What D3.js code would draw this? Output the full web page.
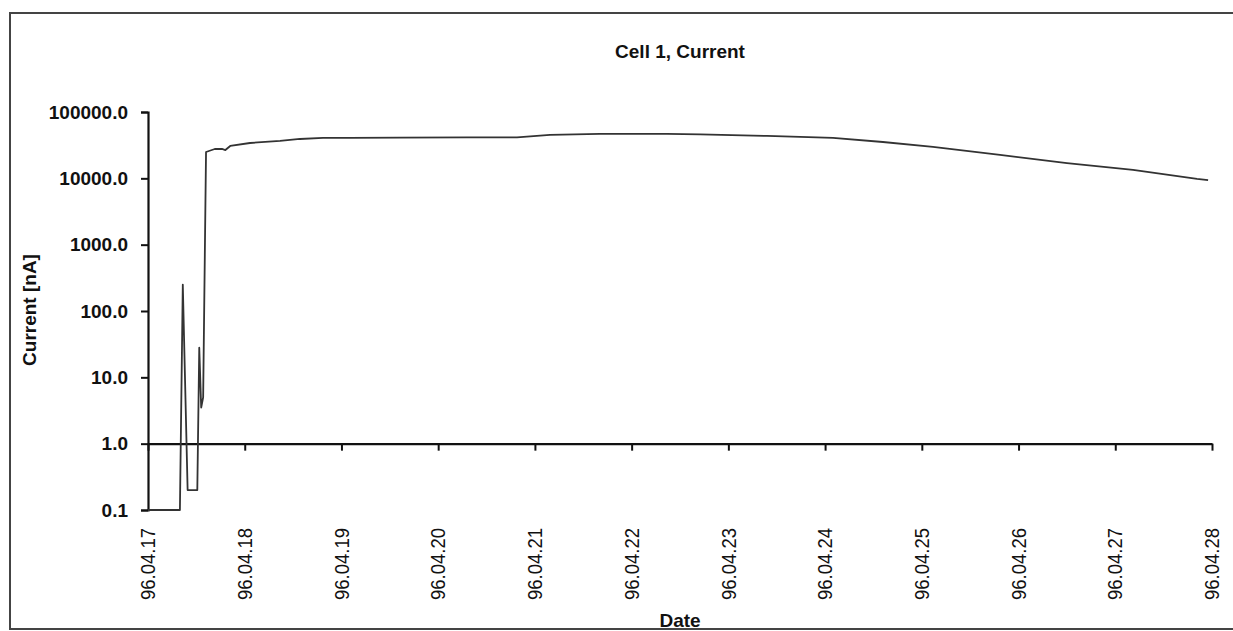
<!DOCTYPE html>
<html><head><meta charset="utf-8">
<script src="https://cdn.jsdelivr.net/npm/d3@7"></script>
<style>body{margin:0;background:#fff} svg{display:block}</style>
</head><body><svg id="c" width="1233" height="631"></svg>
<script>
const chartTitle = "Cell 1, Current";
const xTitle = "Date";
const yTitle = "Current [nA]";
const dateTicks = ["96.04.17","96.04.18","96.04.19","96.04.20","96.04.21","96.04.22",
                   "96.04.23","96.04.24","96.04.25","96.04.26","96.04.27","96.04.28"];
const yTickValues = [0.1, 1, 10, 100, 1000, 10000, 100000];
const times = ["1996-04-17 00:00","1996-04-17 07:55","1996-04-17 08:38","1996-04-17 09:50",
               "1996-04-17 12:14","1996-04-17 12:43","1996-04-17 13:12","1996-04-17 13:41",
               "1996-04-17 14:24","1996-04-17 16:34","1996-04-17 18:22","1996-04-17 19:12",
               "1996-04-17 20:24","1996-04-18 01:18","1996-04-18 08:46","1996-04-18 13:42",
               "1996-04-18 19:25","1996-04-19 02:07","1996-04-19 14:31","1996-04-20 07:09",
               "1996-04-20 19:34","1996-04-21 03:45","1996-04-21 16:09","1996-04-22 08:46",
               "1996-04-22 16:58","1996-04-23 09:35","1996-04-24 01:58","1996-04-24 14:21",
               "1996-04-25 02:46","1996-04-25 19:24","1996-04-26 12:01","1996-04-27 04:24",
               "1996-04-27 20:17","1996-04-27 23:02"];
const current = [0.1, 0.1, 250, 0.2,
                 0.2, 28, 3.5, 5,
                 24950, 27700, 27700, 26700,
                 30760, 34100, 36600, 39200,
                 40600, 40600, 41000, 41500,
                 41500, 45100, 46700, 46700,
                 46000, 43600, 40600, 35300,
                 29700, 22500, 17000, 13400,
                 9800, 9400];

const parseT = d3.timeParse("%Y-%m-%d %H:%M");
const parseD = d3.timeParse("%y.%m.%d");
const data = times.map((t, i) => ({t: parseT(t), v: current[i]}));
const tickDates = dateTicks.map(parseD);

const svg = d3.select("#c");
const font = "'Liberation Sans', Arial, Helvetica, sans-serif";

// frame
svg.append("rect").attr("x", 10).attr("y", 13).attr("width", 1240).attr("height", 616)
  .attr("fill", "none").attr("stroke", "#444").attr("stroke-width", 2);

const x = d3.scaleTime().domain([tickDates[0], tickDates[tickDates.length - 1]]).range([148, 1212]);
const y = d3.scaleLog().domain([0.1, 100000]).range([510, 112]);

// y axis
const yAxis = svg.append("g").attr("transform", "translate(148,0)")
  .call(d3.axisLeft(y).tickValues(yTickValues).tickFormat(d3.format(".1f")).tickSize(7).tickPadding(13));
yAxis.select(".domain").attr("stroke", "#111").attr("stroke-width", 2.2);
yAxis.selectAll(".tick line").attr("stroke", "#111").attr("stroke-width", 2);
yAxis.selectAll(".tick text").attr("font-family", font).attr("font-weight", "bold")
  .attr("font-size", 19).attr("fill", "#111");

// x axis at y = 1
const xAxis = svg.append("g").attr("transform", `translate(0,${y(1)})`)
  .call(d3.axisBottom(x).tickValues(tickDates).tickFormat("").tickSize(7).tickSizeOuter(0));
xAxis.select(".domain").attr("stroke", "#111").attr("stroke-width", 2.2);
xAxis.selectAll(".tick line").attr("stroke", "#111").attr("stroke-width", 2);

// x labels below the plot
svg.append("g").selectAll("text").data(tickDates).join("text")
  .attr("transform", (d) => `translate(${x(d)},528) rotate(-90)`)
  .attr("text-anchor", "end").attr("dy", "0.36em")
  .attr("font-family", font).attr("font-size", 20).attr("fill", "#111")
  .attr("textLength", 72).attr("lengthAdjust", "spacingAndGlyphs")
  .text((d, i) => dateTicks[i]);

// line
svg.append("path").datum(data)
  .attr("fill", "none").attr("stroke", "#333").attr("stroke-width", 1.8)
  .attr("stroke-linejoin", "round")
  .attr("d", d3.line().x(d => x(d.t)).y(d => y(d.v)));

// titles
svg.append("text").attr("x", 680).attr("y", 58).attr("text-anchor", "middle")
  .attr("font-family", font).attr("font-weight", "bold").attr("font-size", 19).attr("fill", "#111")
  .text(chartTitle);
svg.append("text").attr("x", 680).attr("y", 627).attr("text-anchor", "middle")
  .attr("font-family", font).attr("font-weight", "bold").attr("font-size", 19).attr("fill", "#111")
  .text(xTitle);
svg.append("text").attr("transform", "translate(36,310) rotate(-90)").attr("text-anchor", "middle")
  .attr("font-family", font).attr("font-weight", "bold").attr("font-size", 19).attr("fill", "#111")
  .text(yTitle);
</script></body></html>
